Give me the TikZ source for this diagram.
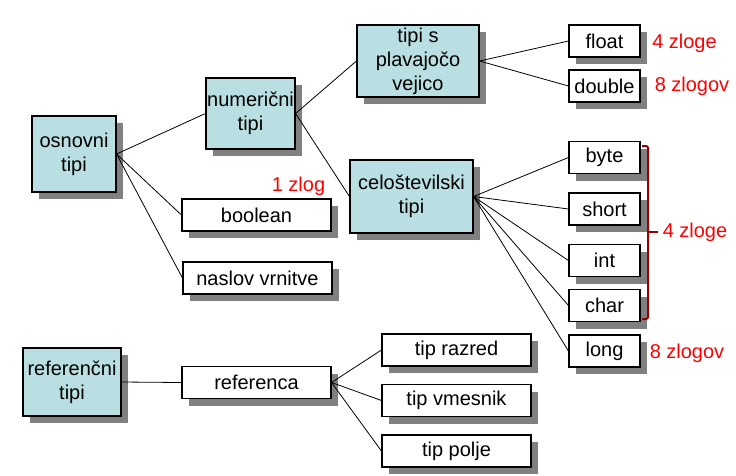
\documentclass[tikz,border=0pt]{standalone}
\usepackage{fontspec}
\setmainfont{Liberation Sans}
\usetikzlibrary{shadows}
\definecolor{tipblue}{RGB}{185,223,227}
\definecolor{bracketred}{RGB}{153,0,0}
\begin{document}
\begin{tikzpicture}[x=1pt,y=-1pt]
  \tikzstyle{vrsta}=[rectangle,draw=black,line width=1.1pt,fill=white,inner sep=0pt,align=center,
                     font=\fontsize{20}{24}\selectfont,minimum width=149pt,minimum height=32pt,
                     drop shadow={shadow xshift=7pt,shadow yshift=-7pt,fill=gray,opacity=1}]
  \tikzstyle{skupina}=[vrsta,fill=tipblue]
  \tikzstyle{kratka}=[vrsta,minimum width=71pt]
  \tikzstyle{zlogi}=[font=\fontsize{20}{24}\selectfont,text=red]
  \tikzstyle{povezava}=[line width=0.8pt]
  \useasboundingbox (0,0) rectangle (736,475);
  % primitivni tipi
  \node (osnovni) at (74,154) [skupina,minimum width=84pt,minimum height=76pt] {osnovni\\tipi};
  \node (numericni) at (250.5,113.5) [skupina,minimum width=89pt,minimum height=71pt] {numerični\\tipi};
  \node (boolean) at (256.5,215) [vrsta] {boolean};
  \node (naslov) at (257.5,278) [vrsta] {naslov vrnitve};
  \node (plavajoci) at (418,61) [skupina,minimum width=122pt,minimum height=72pt] {tipi s\\plavajočo\\vejico};
  \node (celostevilski) at (411.5,196.5) [skupina,minimum width=123pt,minimum height=73pt] {celoštevilski\\tipi};
  \node (float) at (604.5,41) [kratka] {float};
  \node (double) at (604.5,86) [kratka] {double};
  \node (byte) at (604.5,157.5) [kratka] {byte};
  \node (short) at (604.5,209) [kratka] {short};
  \node (int) at (604.5,260.5) [kratka] {int};
  \node (char) at (604.5,305.5) [kratka] {char};
  \node (long) at (604.5,351) [kratka] {long};
  % referencni tipi
  \node (referencni) at (72,382) [skupina,minimum width=98pt,minimum height=68pt] {referenčni\\tipi};
  \node (referenca) at (256.5,382.5) [vrsta] {referenca};
  \node (razred) at (456.5,350) [vrsta] {tip razred};
  \node (vmesnik) at (456.5,400.5) [vrsta] {tip vmesnik};
  \node (polje) at (456.5,451) [vrsta] {tip polje};
  \draw [povezava] (osnovni.east) -- (numericni.west);
  \draw [povezava] (osnovni.east) -- (boolean.west);
  \draw [povezava] (osnovni.east) -- (naslov.west);
  \draw [povezava] (numericni.east) -- (plavajoci.west);
  \draw [povezava] (numericni.east) -- (celostevilski.west);
  \draw [povezava] (plavajoci.east) -- (float.west);
  \draw [povezava] (plavajoci.east) -- (double.west);
  \foreach \t in {byte,short,int,char,long}
    \draw [povezava] (celostevilski.east) -- (\t.west);
  \draw [povezava] (referencni.east) -- (referenca.west);
  \draw [povezava] (referenca.east) -- (razred.west);
  \draw [povezava] (referenca.east) -- (vmesnik.west);
  \draw [povezava] (referenca.east) -- (polje.west);
  % oklepaj
  \coordinate (oklepajzg) at (642,146);
  \coordinate (oklepajsp) at (642,319);
  \coordinate (oklepajsr) at (648,232);
  \draw [bracketred,line width=2pt,rounded corners=1.5pt] (oklepajzg) -- (648,146) -- (648,319) -- (oklepajsp);
  \draw [bracketred,line width=2pt] (oklepajsr) -- ++(10,0);
  \node[zlogi] (booleanlabel) at (298.5,186) {1 zlog};
  \node[zlogi] (floatlabel) at (684.5,43) {4 zloge};
  \node[zlogi] (doublelabel) at (692,86) {8 zlogov};
  \node[zlogi] (celilabel) at (695,232) {4 zloge};
  \node[zlogi] (longlabel) at (687,353) {8 zlogov};
\end{tikzpicture}
\end{document}
